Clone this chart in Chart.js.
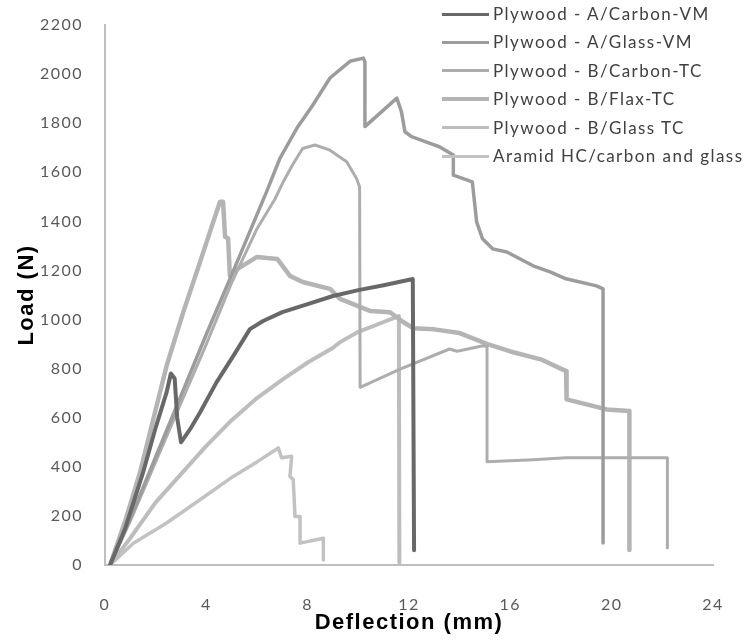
<!DOCTYPE html>
<html>
<head>
<meta charset="utf-8">
<script src="https://cdn.jsdelivr.net/npm/chart.js@4.4.1/dist/chart.umd.min.js"></script>
<style>
  html, body { margin: 0; padding: 0; background: #ffffff; }
  #wrap { position: relative; width: 750px; height: 640px; overflow: hidden; }
  #legend { position: absolute; left: 442px; top: 0px; font-family: Lato, "Liberation Sans", sans-serif; font-size: 17px; letter-spacing: 1.45px; color: #404040; }
  .item { position: absolute; left: 0; height: 20px; white-space: nowrap; }
  .sw { position: absolute; left: 0; width: 47px; top: 9px; }
  .lb { position: absolute; left: 51px; top: 0px; line-height: 20px; }
</style>
</head>
<body>
<div id="wrap">
  <canvas id="c" width="750" height="640"></canvas>
  <div id="legend"></div>
</div>
<script>
// ---- Data (deflection in mm, load in N) ----
const seriesNames = [
  "Plywood - A/Carbon-VM",
  "Plywood - A/Glass-VM",
  "Plywood - B/Carbon-TC",
  "Plywood - B/Flax-TC",
  "Plywood - B/Glass TC",
  "Aramid HC/carbon and glass"
];

const carbonVmX = [0.2, 0.8, 1.5, 2.0, 2.43, 2.6, 2.75, 2.85, 3.0, 3.4, 3.75, 4.4, 5.06, 5.72, 6.24, 7.0, 8.0, 9.0, 10.0, 11.0, 12.15, 12.2];
const carbonVmY = [0, 150, 376, 560, 703, 780, 760, 600, 500, 560, 621, 744, 851, 961, 994, 1030, 1063, 1096, 1120, 1140, 1165, 60];

const glassVmX = [0.2, 1.0, 2.0, 3.0, 4.0, 5.05, 6.38, 6.9, 7.57, 8.2, 8.88, 9.67, 10.2, 10.26, 10.26, 11.52, 11.7, 11.84, 12.1, 12.83, 13.2, 13.75, 13.75, 14.5, 14.67, 14.9, 15.3, 15.86, 16.9, 17.57, 18.2, 19.4, 19.66, 19.66];
const glassVmY = [0, 190, 440, 690, 940, 1194, 1521, 1656, 1779, 1873, 1984, 2052, 2065, 2050, 1786, 1902, 1847, 1765, 1745, 1718, 1704, 1670, 1588, 1561, 1398, 1329, 1288, 1275, 1219, 1194, 1166, 1137, 1125, 90];

const carbonTcX = [0.2, 1.0, 2.0, 3.0, 4.0, 5.0, 6.0, 6.7, 7.03, 7.43, 7.8, 8.29, 8.88, 9.54, 9.93, 10.05, 10.07, 11.65, 13.6, 13.9, 14.93, 15.08, 15.08, 16.9, 18.2, 20.2, 22.2, 22.2];
const carbonTcY = [0, 180, 420, 660, 900, 1150, 1370, 1489, 1560, 1635, 1697, 1711, 1690, 1643, 1575, 1540, 724, 798, 880, 871, 893, 890, 421, 429, 437, 437, 437, 70];

const flaxTcX = [0.2, 0.8, 1.38, 2.43, 3.09, 3.75, 4.27, 4.54, 4.66, 4.74, 4.86, 4.93, 5.05, 6.0, 6.8, 7.3, 7.8, 8.88, 9.28, 10.46, 11.25, 11.77, 12.16, 13.0, 14.0, 15.1, 16.0, 17.2, 18.2, 18.22, 19.8, 20.7, 20.7];
const flaxTcY = [0, 180, 376, 811, 1030, 1234, 1397, 1480, 1480, 1337, 1330, 1178, 1194, 1255, 1247, 1178, 1153, 1125, 1084, 1035, 1030, 990, 965, 960, 945, 900, 870, 838, 790, 675, 634, 627, 61];

const glassTcX = [0.2, 1.0, 2.0, 3.0, 4.0, 5.0, 6.0, 7.0, 8.0, 9.0, 9.28, 10.0, 11.0, 11.6, 11.62];
const glassTcY = [0, 110, 255, 370, 485, 590, 680, 755, 825, 885, 908, 950, 990, 1014, 10];

const aramidX = [0.2, 1.12, 2.43, 3.75, 5.06, 6.0, 6.84, 6.97, 7.37, 7.3, 7.43, 7.5, 7.7, 7.7, 8.62, 8.62];
const aramidY = [0, 89, 171, 266, 361, 420, 477, 437, 443, 361, 348, 198, 198, 89, 109, 20];

const xTicks = [0, 4, 8, 12, 16, 20, 24];
const yTicks = [0, 200, 400, 600, 800, 1000, 1200, 1400, 1600, 1800, 2000, 2200];

// ---- Styles ----
const colors = ["#686868", "#9c9c9c", "#adadad", "#b4b4b4", "#bdbdbd", "#c2c2c2"];
const widths = [4, 3.5, 3, 4.5, 4, 3.5];
const legendWidths = [3, 3, 3, 4, 3, 3];

const seriesX = [carbonVmX, glassVmX, carbonTcX, flaxTcX, glassTcX, aramidX];
const seriesY = [carbonVmY, glassVmY, carbonTcY, flaxTcY, glassTcY, aramidY];

const datasets = seriesNames.map((name, i) => ({
  label: name,
  data: seriesX[i].map((x, j) => ({ x: x, y: seriesY[i][j] })),
  borderColor: colors[i],
  backgroundColor: colors[i],
  borderWidth: widths[i],
  showLine: true,
  pointRadius: 0,
  tension: 0,
  borderJoinStyle: 'round',
  borderCapStyle: 'round'
}));

// HTML legend
const leg = document.getElementById('legend');
seriesNames.forEach((name, i) => {
  const it = document.createElement('div');
  it.className = 'item';
  it.style.top = (4 + i * 28.4) + 'px';
  const sw = document.createElement('div');
  sw.className = 'sw';
  sw.style.height = legendWidths[i] + 'px';
  sw.style.marginTop = (-legendWidths[i] / 2 + 1) + 'px';
  sw.style.background = colors[i];
  const lb = document.createElement('div');
  lb.className = 'lb';
  lb.textContent = name;
  it.appendChild(sw);
  it.appendChild(lb);
  leg.appendChild(it);
});

const spacingPlugin = {
  id: 'spacing',
  beforeDraw(chart) { chart.ctx.letterSpacing = '1.5px'; }
};

new Chart(document.getElementById('c'), {
  type: 'scatter',
  data: { datasets: datasets },
  plugins: [spacingPlugin],
  options: {
    responsive: false,
    animation: false,
    layout: { padding: { top: 25, right: 37, left: 0, bottom: 0 } },
    plugins: { legend: { display: false }, tooltip: { enabled: false } },
    scales: {
      x: {
        type: 'linear',
        min: 0, max: 24,
        afterBuildTicks: (s) => { s.ticks = xTicks.map(v => ({ value: v })); },
        afterFit: (s) => { s.height = 75; s.paddingLeft = 0; s.paddingRight = 0; },
        grid: { display: false, drawTicks: false },
        border: { display: true, color: '#bfbfbf', width: 2 },
        ticks: { padding: 30, color: '#595959', font: { family: 'Lato', size: 16 }, maxRotation: 0, callback: (v) => String(v) },
        title: { display: true, text: 'Deflection (mm)', color: '#000000', font: { family: 'Liberation Sans', size: 22, weight: 'bold' }, padding: 4 }
      },
      y: {
        type: 'linear',
        min: 0, max: 2200,
        afterBuildTicks: (s) => { s.ticks = yTicks.map(v => ({ value: v })); },
        afterFit: (s) => { s.width = 105; s.paddingTop = 0; s.paddingBottom = 0; },
        grid: { display: false, drawTicks: false },
        border: { display: true, color: '#bfbfbf', width: 2 },
        ticks: { padding: 22, color: '#595959', font: { family: 'Lato', size: 16 }, callback: (v) => String(v) },
        title: { display: true, text: 'Load (N)', color: '#000000', font: { family: 'Liberation Sans', size: 22, weight: 'bold' }, padding: 14 }
      }
    }
  }
});
</script>
</body>
</html>
